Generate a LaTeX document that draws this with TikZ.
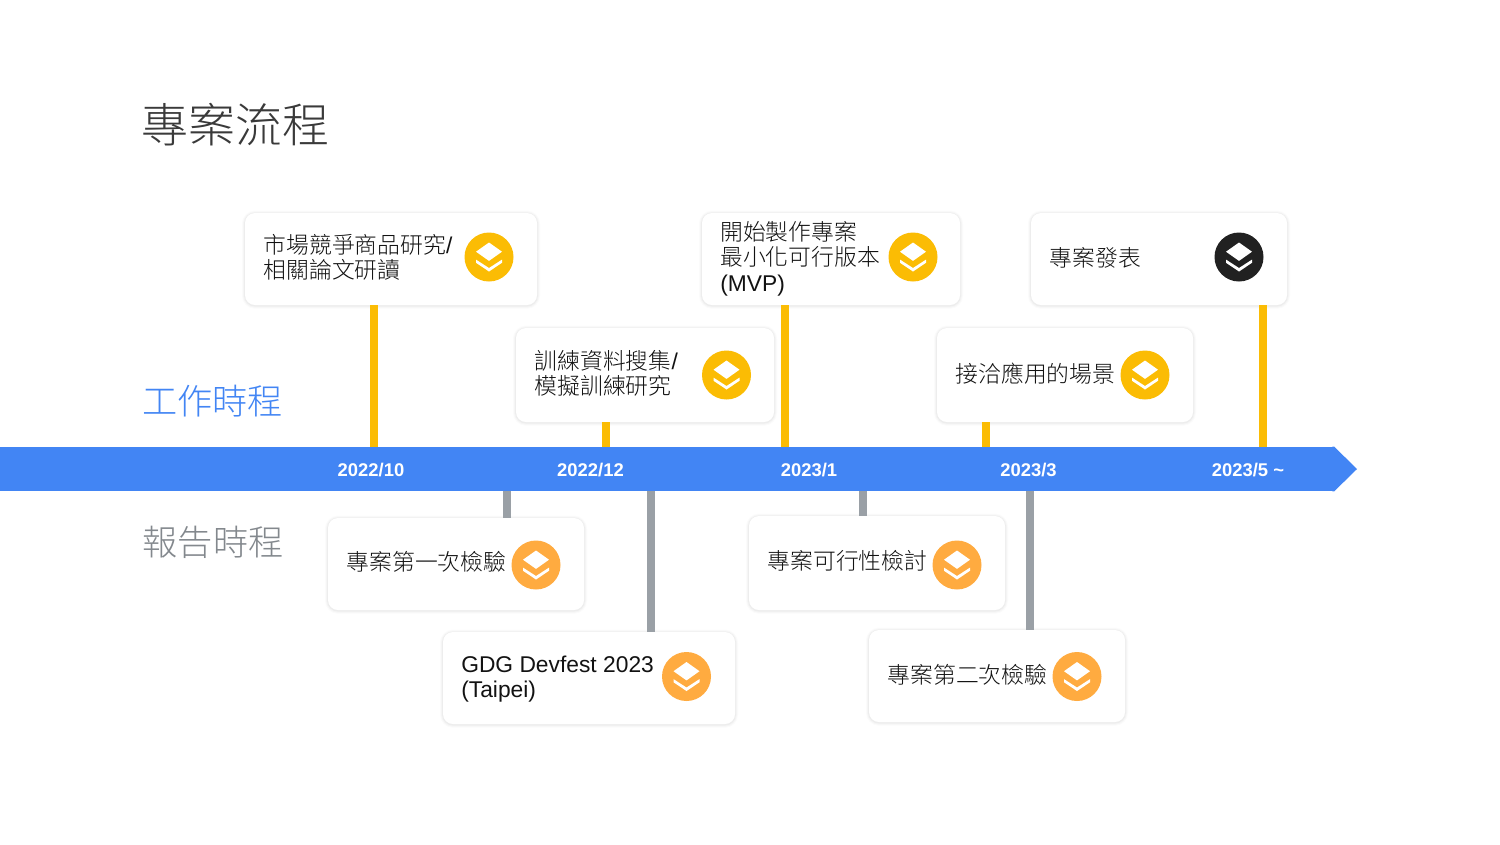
\documentclass[tikz,border=0pt]{standalone}
\usepackage{fontspec}
\setmainfont{Liberation Sans}
\newfontfamily\cjk{Noto Sans CJK TC Light}
\usetikzlibrary{calc}
\definecolor{barblue}{HTML}{4285F4}
\definecolor{ylw}{HTML}{FBBC04}
\definecolor{grayline}{HTML}{9AA0A6}
\definecolor{headgray}{HTML}{83888D}
\definecolor{org}{HTML}{FFAB40}
\definecolor{blk}{HTML}{212121}
\definecolor{titlec}{HTML}{3A3A3A}
\definecolor{txt}{HTML}{121212}
\newcommand{\cardtext}{\fontsize{17.1pt}{18.6pt}\selectfont}
\newcommand{\layericon}[4]{%
  \node[iconc,fill=#4] (#1) at (#2,#3) {};
  \fill[white] ($(#1.center)+(0,-14.5)$) -- ++(13,9.2) -- ++(-13,9.2) -- ++(-13,-9.2) -- cycle;
  \fill[white] ($(#1.center)+(-13,2.6)$) -- ++(13,8.4) -- ++(13,-8.4) -- ++(0,3.2) -- ++(-13,8.7) -- ++(-13,-8.7) -- cycle;
}
\tikzset{
  x=0.75pt,y=-0.75pt,
  card/.style={fill=white,rounded corners=7.5pt,inner sep=0pt,
    preaction={draw=black,draw opacity=0.016,line width=4.5pt,transform canvas={yshift=-0.5pt}},
    preaction={draw=black,draw opacity=0.022,line width=3pt,transform canvas={yshift=-0.5pt}},
    preaction={draw=black,draw opacity=0.03,line width=1.5pt,transform canvas={yshift=-0.4pt}}},
  iconc/.style={circle,minimum size=36.75pt,inner sep=0pt},
  ctext/.style={anchor=west,inner sep=0pt,align=left,text=txt,font=\cardtext},
  datel/.style={text=white,inner sep=0pt,font=\fontsize{13.8pt}{16pt}\selectfont\bfseries},
  yconn/.style={draw=ylw,line width=6pt},
  gconn/.style={draw=grayline,line width=6pt},
  heading/.style={anchor=west,inner sep=0pt},
}
\begin{document}
\begin{tikzpicture}
\useasboundingbox (0,0) rectangle (1500,844);
\fill[white] (0,0) rectangle (1500,844);
\node[heading,text=titlec,font=\fontsize{35.2pt}{40pt}\selectfont\cjk] (title) at (141,125) {專案流程};
\node[heading,text=barblue,font=\fontsize{26.4pt}{30pt}\selectfont\cjk] (work) at (142,401.5) {工作時程};
\node[heading,text=headgray,font=\fontsize{26.4pt}{30pt}\selectfont\cjk] (report) at (142.5,542) {報告時程};
% bar
\node[fill=barblue,inner sep=0pt,minimum width=1000.5pt,minimum height=33pt] (bar) at (667,469) {};
\fill[barblue] ($(bar.north east)+(-2,0)$) -- (bar.north east) -- (1357,469) -- (bar.south east) -- ($(bar.south east)+(-2,0)$) -- cycle;
\node[datel] (d1) at (371,470.5) {2022/10};
\node[datel] (d2) at (590.5,470.5) {2022/12};
\node[datel] (d3) at (809,470.5) {2023/1};
\node[datel] (d4) at (1028.5,470.5) {2023/3};
\node[datel] (d5) at (1248,470.5) {2023/5 \textasciitilde};
% cards
\node[card,minimum width=219pt,minimum height=69pt] (A) at (391,259) {};
\node[card,minimum width=193.5pt,minimum height=70.5pt] (B) at (645,375) {};
\node[card,minimum width=193.5pt,minimum height=69pt] (C) at (831,259) {};
\node[card,minimum width=192pt,minimum height=69pt] (D) at (1159,259) {};
\node[card,minimum width=192pt,minimum height=70.5pt] (E) at (1065,375) {};
\node[card,minimum width=192pt,minimum height=69pt] (F) at (456,564) {};
\node[card,minimum width=219pt,minimum height=69pt] (G) at (589,678) {};
\node[card,minimum width=192pt,minimum height=70.5pt] (H) at (877,563) {};
\node[card,minimum width=192pt,minimum height=69pt] (I) at (997,676) {};
% connectors
\coordinate (c1) at (374,0);
\coordinate (c2) at (605.5,0);
\coordinate (c3) at (785,0);
\coordinate (c4) at (986,0);
\coordinate (c5) at (1263,0);
\coordinate (c6) at (506.5,0);
\coordinate (c7) at (651,0);
\coordinate (c8) at (863,0);
\coordinate (c9) at (1030,0);
\draw[yconn] (A.south -| c1) -- (bar.north -| c1);
\draw[yconn] (B.south -| c2) -- (bar.north -| c2);
\draw[yconn] (C.south -| c3) -- (bar.north -| c3);
\draw[yconn] (E.south -| c4) -- (bar.north -| c4);
\draw[yconn] (D.south -| c5) -- (bar.north -| c5);
\draw[gconn] (bar.south -| c6) -- (F.north -| c6);
\draw[gconn] (bar.south -| c7) -- (G.north -| c7);
\draw[gconn] (bar.south -| c8) -- (H.north -| c8);
\draw[gconn] (bar.south -| c9) -- (I.north -| c9);
% texts
\node[ctext] (tA) at (263.5,257) {{\cjk 市場競爭商品研究}/\\{\cjk 相關論文研讀}};
\node[ctext] (tB) at (534.5,373) {{\cjk 訓練資料搜集}/\\{\cjk 模擬訓練研究}};
\node[ctext,font=\fontsize{17.1pt}{19pt}\selectfont] (tC) at (720,258.5) {{\cjk 開始製作專案}\\{\cjk 最小化可行版本}\\(MVP)};
\node[ctext] (tD) at (1049.5,257.5) {\cjk 專案發表};
\node[ctext] (tE) at (955.5,373.5) {\cjk 接洽應用的場景};
\node[ctext] (tF) at (346.5,561.5) {\cjk 專案第一次檢驗};
\node[ctext] (tG) at (461,679) {GDG Devfest 2023\\(Taipei)};
\node[ctext] (tH) at (767.5,560.5) {\cjk 專案可行性檢討};
\node[ctext] (tI) at (887.5,674.5) {\cjk 專案第二次檢驗};
% icons
\layericon{iA}{489}{257}{ylw}
\layericon{iB}{726.5}{375}{ylw}
\layericon{iC}{913}{257}{ylw}
\layericon{iD}{1239}{257}{blk}
\layericon{iE}{1145}{375}{ylw}
\layericon{iF}{536}{565}{org}
\layericon{iG}{686.5}{676.5}{org}
\layericon{iH}{957}{565}{org}
\layericon{iI}{1077}{676.5}{org}
\end{tikzpicture}
\end{document}
